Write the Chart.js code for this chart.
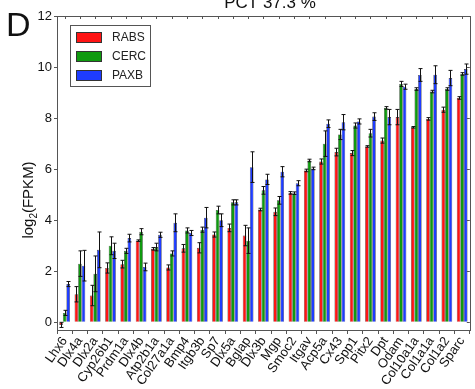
<!DOCTYPE html>
<html>
<head>
<meta charset="utf-8">
<script src="https://cdn.jsdelivr.net/npm/chart.js@4"></script>
<style>
  html, body { margin: 0; padding: 0; background: #fff; }
  #box { width: 475px; height: 389px; }
</style>
</head>
<body>
<div id="box"><canvas id="chart" width="475" height="389"></canvas></div>
<script>
// ---- datos ----
const genes = ["Lhx6","Dlx4a","Dlx2a","Cyp26b1","Prdm1a","Dlx4b","Atp2b1a","Col27a1a","Bmp4","Itgb3b","Sp7","Dlx5a","Bglap","Dlx3b","Mgp","Smoc2","Itgav","Acp5a","Cx43","Spp1","Pitx2","Dpt","Odam","Col10a1a","Col1a1a","Col1a2","Sparc"];
const seriesNames = ["RABS", "CERC", "PAXB"];
const rabs = [-0.1,1.1,1.05,2.13,2.28,3.2,2.88,2.15,2.9,2.92,3.44,3.7,3.4,4.42,4.33,5.07,5.95,6.3,6.67,6.63,6.89,7.12,8.04,7.64,7.97,8.33,8.79];
const cerc = [0.37,2.3,1.9,3.0,2.8,3.55,2.95,2.7,3.6,3.63,4.4,4.7,3.2,5.17,4.78,5.06,6.34,7.0,7.36,7.71,7.41,8.4,9.34,9.14,9.04,9.14,9.73];
const paxb = [1.5,2.22,2.84,2.8,3.3,2.17,3.43,3.9,3.5,4.1,4.0,4.7,6.08,5.6,5.9,5.45,6.03,7.78,7.84,7.87,8.06,8.04,9.23,9.69,9.7,9.57,9.92];
const rabsErr = [0.1,0.3,0.4,0.2,0.15,0.03,0.05,0.1,0.15,0.2,0.1,0.15,0.4,0.05,0.15,0.05,0.05,0.1,0.15,0.1,0.03,0.1,0.3,0.03,0.05,0.1,0.05];
const cercErr = [0.1,0.5,0.7,0.35,0.1,0.12,0.15,0.1,0.1,0.1,0.15,0.1,0.5,0.15,0.15,0.05,0.05,0.5,0.2,0.1,0.15,0.05,0.1,0.05,0.05,0.05,0.05];
const paxbErr = [0.1,0.6,0.7,0.3,0.15,0.15,0.1,0.35,0.1,0.4,0.25,0.1,0.6,0.2,0.2,0.1,0.05,0.15,0.3,0.1,0.15,0.3,0.1,0.25,0.35,0.3,0.2];
const yTicks = [0, 2, 4, 6, 8, 10, 12];
const titulo = "PCT 37.3 %";
const panel = "D";

const colores = ["#ff1414", "#0f9a0f", "#1e3cff"];
const FONT = "'Liberation Sans', Arial, sans-serif";

// ---- barras de error ----
const errorBars = {
  id: "errorBars",
  afterDatasetsDraw(chart) {
    const ctx = chart.ctx;
    const y = chart.scales.y;
    ctx.save();
    ctx.strokeStyle = "#111";
    ctx.lineWidth = 1;
    chart.data.datasets.forEach((ds, di) => {
      const meta = chart.getDatasetMeta(di);
      meta.data.forEach((bar, i) => {
        const v = ds.data[i], e = ds.err[i];
        const y1 = y.getPixelForValue(v + e);
        const y2 = y.getPixelForValue(v - e);
        const x = Math.round(bar.x) + 0.5;
        ctx.beginPath();
        ctx.moveTo(x, y1); ctx.lineTo(x, y2);
        ctx.moveTo(x - 2, y1); ctx.lineTo(x + 2, y1);
        ctx.moveTo(x - 2, y2); ctx.lineTo(x + 2, y2);
        ctx.stroke();
      });
    });
    ctx.restore();
  }
};

// ---- marco, leyenda, textos ----
const decor = {
  id: "decor",
  afterDraw(chart) {
    const ctx = chart.ctx;
    const a = chart.chartArea;
    const x = chart.scales.x, y = chart.scales.y;
    ctx.save();
    ctx.strokeStyle = "#555";
    ctx.lineWidth = 1;
    ctx.strokeRect(Math.round(a.left) + 0.5, Math.round(a.top) + 0.5, Math.round(a.right - a.left), Math.round(a.bottom - a.top));
    // ticks arriba y derecha (hacia dentro)
    ctx.beginPath();
    genes.forEach((g, i) => {
      const px = Math.round(x.getPixelForValue(i)) + 0.5;
      ctx.moveTo(px, a.top); ctx.lineTo(px, a.top + 3);
    });
    yTicks.forEach(t => {
      const py = Math.round(y.getPixelForValue(t)) + 0.5;
      ctx.moveTo(a.right, py); ctx.lineTo(a.right - 3, py);
    });
    ctx.stroke();

    // leyenda
    const lx = 70, ly = 25, lw = 80, lh = 61;
    ctx.fillStyle = "#fff";
    ctx.fillRect(lx, ly, lw, lh);
    ctx.strokeStyle = "#555";
    ctx.strokeRect(lx + 0.5, ly + 0.5, lw, lh);
    ctx.font = "12px " + FONT;
    ctx.textBaseline = "middle";
    chart.data.datasets.forEach((ds, i) => {
      const cy = ly + 12 + i * 19;
      ctx.fillStyle = ds.backgroundColor;
      ctx.fillRect(lx + 6, cy - 5, 25, 10);
      ctx.strokeStyle = "#333";
      ctx.strokeRect(lx + 6.5, cy - 4.5, 25, 10);
      ctx.fillStyle = "#222";
      ctx.fillText(ds.label, lx + 42, cy + 1);
    });

    // titulo (cortado arriba) y letra del panel
    ctx.fillStyle = "#111";
    ctx.textAlign = "center";
    ctx.textBaseline = "alphabetic";
    ctx.font = "17px " + FONT;
    ctx.fillText(titulo, 270, 8);
    ctx.textAlign = "left";
    ctx.font = "34px " + FONT;
    ctx.fillText(panel, 6, 36);

    // etiqueta eje y con subindice
    ctx.translate(33, 200);
    ctx.rotate(-Math.PI / 2);
    ctx.font = "15px " + FONT;
    const w1 = ctx.measureText("log").width;
    ctx.font = "10px " + FONT;
    const w2 = ctx.measureText("2").width;
    ctx.font = "15px " + FONT;
    const w3 = ctx.measureText("(FPKM)").width;
    let sx = -(w1 + w2 + w3) / 2;
    ctx.fillText("log", sx, 0);
    ctx.font = "10px " + FONT;
    ctx.fillText("2", sx + w1, 4);
    ctx.font = "15px " + FONT;
    ctx.fillText("(FPKM)", sx + w1 + w2, 0);
    ctx.restore();
  }
};

const series = [rabs, cerc, paxb];
const errs = [rabsErr, cercErr, paxbErr];

new Chart(document.getElementById("chart"), {
  type: "bar",
  data: {
    labels: genes,
    datasets: seriesNames.map((n, i) => ({
      label: n,
      data: series[i],
      err: errs[i],
      backgroundColor: colores[i],
      borderColor: "#333",
      borderWidth: 0.6,
      categoryPercentage: 0.7,
      barPercentage: 1.0
    }))
  },
  options: {
    responsive: false,
    animation: false,
    layout: { padding: { left: 0, right: 3, top: 16, bottom: 0 } },
    plugins: { legend: { display: false }, tooltip: { enabled: false }, title: { display: false } },
    scales: {
      x: {
        grid: { display: true, drawOnChartArea: false, tickLength: 4, color: "#555" },
        border: { display: false },
        ticks: {
          autoSkip: false, minRotation: 55, maxRotation: 55, padding: 0,
          color: "#111", font: { family: FONT, size: 13 }
        },
        afterFit(s) { s.height = 59; }
      },
      y: {
        min: -0.3, max: 12,
        afterBuildTicks(s) { s.ticks = yTicks.map(v => ({ value: v })); },
        grid: { display: true, drawOnChartArea: false, tickLength: 3, color: "#555" },
        border: { display: false },
        ticks: { color: "#111", padding: 2, font: { family: FONT, size: 13 } },
        afterFit(s) { s.width = 57; }
      }
    }
  },
  plugins: [errorBars, decor]
});
</script>
</body>
</html>
